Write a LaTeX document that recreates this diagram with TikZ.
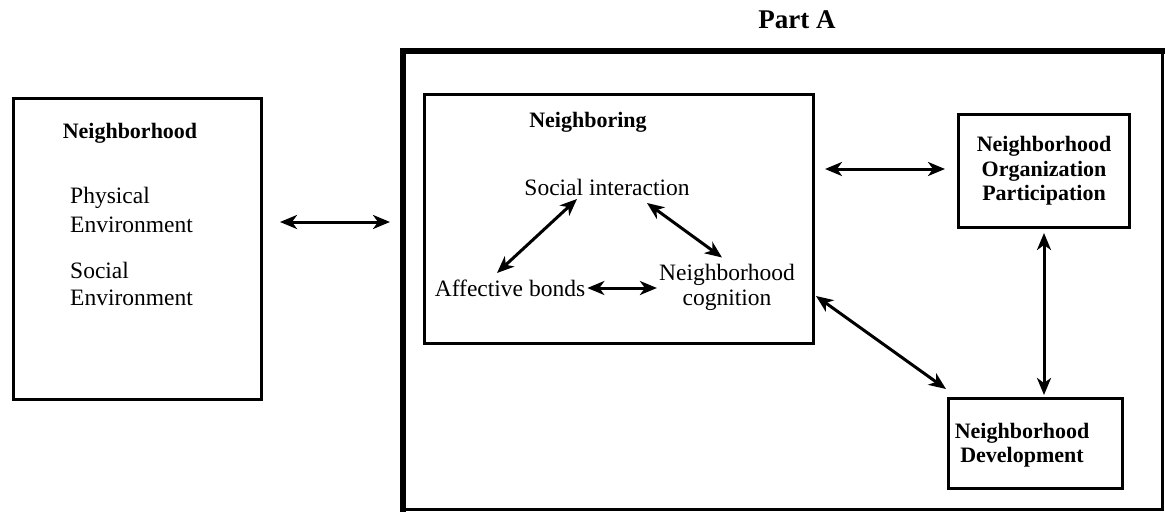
\documentclass[tikz,border=0pt]{standalone}
\usepackage{fontspec}
\setmainfont{Liberation Serif}
\usetikzlibrary{arrows.meta,calc}
\begin{document}
\begin{tikzpicture}[x=1pt,y=-1pt,
  box/.style={draw,line width=3pt,inner sep=0pt,anchor=north west},
  lbl/.style={font=\fontsize{23.5}{25}\selectfont,inner sep=2pt},
  bl/.style={font=\bfseries\fontsize{22}{24.5}\selectfont,inner sep=2pt},
  arr/.style={line width=3pt,{Stealth[length=17pt,width=14pt,inset=5pt]}-{Stealth[length=17pt,width=14pt,inset=5pt]}}]
\useasboundingbox (0,0) rectangle (1165,514);

% left box
\node[box,minimum width=248pt,minimum height=301pt] (env) at (12,97) {};
\node[bl] (envt) at (130,133) {Neighborhood};
\node[lbl,anchor=west,align=left,font=\fontsize{23.5}{29}\selectfont] (phys) at (68,209.5) {Physical\\Environment};
\node[lbl,anchor=west,align=left,font=\fontsize{23.5}{27}\selectfont] (soc) at (68,283.5) {Social\\Environment};

% Part A frame
\node[bl,font=\bfseries\fontsize{27}{30}\selectfont] (parta) at (797,20) {Part A};
\node[inner sep=0pt,anchor=north west,minimum width=759pt,minimum height=458pt] (frame) at (403,51) {};
\draw[line width=6pt,line cap=rect] (frame.south west) -- (frame.north west) -- (frame.north east);
\draw[line width=3.5pt,line cap=rect] (frame.north east) -- (frame.south east) -- (frame.south west);

% left arrow
\draw[arr] ($(env.north east)+(17,125)$) -- ($(frame.north west)+(-13,171)$);

% Neighboring box
\node[box,minimum width=389pt,minimum height=249pt] (nbg) at (423,93) {};
\node[bl] (nbgt) at (588,122) {Neighboring};
\node[lbl] (si) at (607,187) {Social interaction};
\node[lbl] (ab) at (510,288) {Affective bonds};
\node[lbl,align=center] (nc) at (727,287.5) {Neighborhood\\cognition};
\draw[arr] ($(si)+(-30,12)$) -- ($(ab)+(-13,-15)$);
\draw[arr] ($(si)+(40,16)$) -- ($(nc)+(-5,-30)$);
\draw[arr] (ab.east) -- (ab.east -| nc.west);

% right boxes
\node[box,minimum width=171pt,minimum height=113pt,align=center,font=\bfseries\fontsize{22}{24.5}\selectfont] (nop) at (957,113) {Neighborhood\\Organization\\Participation};
\node[box,minimum width=174pt,minimum height=90pt] (nd) at (947,397) {};
\node[bl,align=center] (ndt) at (1022,445) {Neighborhood\\Development};

\draw[arr] ($(nbg.north east)+(10,76)$) -- ($(nop.north west)+(-12,56)$);
\draw[arr,shorten <=4pt,shorten >=2pt] (nop.south) -- (nop.south |- nd.north);
\draw[arr] ($(nbg.north east)+(1,203)$) -- ($(nd.north west)+(-1,-8)$);
\end{tikzpicture}
\end{document}
